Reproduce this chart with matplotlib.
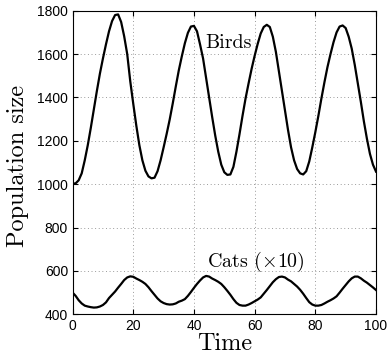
import numpy as np
import matplotlib
matplotlib.use("Agg")
import matplotlib.pyplot as plt

# Simulated predator-prey run, sampled once per time unit
time = np.arange(0, 101)

birds = [
    1002, 1004, 1018, 1050, 1110, 1180, 1260, 1345, 1430, 1510,
    1580, 1645, 1705, 1752, 1780, 1783, 1748, 1682, 1600, 1475,
    1370, 1270, 1180, 1110, 1062, 1036, 1027, 1030, 1060, 1110,
    1170, 1232, 1298, 1372, 1450, 1525, 1590, 1650, 1698, 1727,
    1730, 1705, 1645, 1580, 1490, 1400, 1310, 1225, 1150, 1090,
    1055, 1043, 1045, 1080, 1150, 1230, 1315, 1395, 1465, 1532,
    1592, 1647, 1695, 1725, 1735, 1725, 1680, 1610, 1520, 1430,
    1340, 1250, 1170, 1110, 1070, 1050, 1045, 1060, 1105, 1170,
    1240, 1315, 1395, 1470, 1540, 1600, 1655, 1700, 1727, 1732,
    1720, 1680, 1625, 1550, 1465, 1380, 1290, 1210, 1140, 1090,
    1058,
]

cats = [
    50.0, 48.5, 46.5, 45.0, 44.0, 43.6, 43.3, 43.1, 43.2, 43.6,
    44.3, 45.5, 47.5, 49.0, 50.5, 52.3, 54.0, 55.8, 57.0, 57.5,
    57.3, 56.5, 55.8, 55.0, 54.0, 52.5, 50.7, 49.0, 47.3, 46.0,
    45.2, 44.7, 44.5, 44.6, 45.0, 45.8, 46.3, 47.0, 48.5, 50.3,
    52.2, 54.0, 55.6, 57.0, 57.7, 57.4, 56.5, 55.8, 55.0, 54.0,
    52.5, 50.8, 49.0, 47.0, 45.3, 44.3, 44.0, 44.0, 44.5, 45.2,
    46.0, 46.8, 47.8, 49.5, 51.2, 53.0, 54.8, 56.2, 57.2, 57.4,
    57.0, 56.0, 55.2, 54.0, 52.8, 51.3, 49.5, 47.5, 45.6, 44.5,
    44.0, 44.0, 44.3, 45.0, 45.8, 46.5, 47.3, 48.3, 50.0, 51.8,
    53.5, 55.2, 56.6, 57.4, 57.4, 56.6, 55.5, 54.6, 53.5, 52.4,
    51.2,
]
cat_scale = 10

xticks = [0, 20, 40, 60, 80, 100]
yticks = [400, 600, 800, 1000, 1200, 1400, 1600, 1800]

plt.rcParams["mathtext.fontset"] = "cm"
serif = ["cmr10", "DejaVu Serif"]

fig = plt.figure(figsize=(3.87, 3.56), dpi=100)
ax = fig.add_axes([0.1876, 0.1171, 0.7840, 0.8528])

ax.plot(time, birds, color="black", linewidth=1.6)
ax.plot(time, np.array(cats) * cat_scale, color="black", linewidth=1.6)

ax.text(43.6, 1627, "Birds", family=serif, fontsize=14.4, va="baseline")
ax.text(44.2, 617, r"Cats $(\times10)$", family=serif, fontsize=14.4, va="baseline")

ax.set_xlim(0, 100)
ax.set_ylim(400, 1800)
ax.set_xticks(xticks)
ax.set_yticks(yticks)
ax.tick_params(direction="in", length=3.5, width=0.8, top=True, right=True,
               labelsize=10, pad=3.3)
for lab in ax.get_xticklabels() + ax.get_yticklabels():
    lab.set_family("Liberation Sans")
for sp in ax.spines.values():
    sp.set_linewidth(0.8)

# light dotted grid, MATLAB style
ax.grid(True, linestyle=(0, (1, 3)), color="0.55", linewidth=0.65)

ax.set_xlabel("Time", family=serif, fontsize=17.5)
ax.set_ylabel("Population size", family=serif, fontsize=17.5)
ax.xaxis.set_label_coords(0.5, -0.062)
ax.yaxis.set_label_coords(-0.145, 0.49)

fig.savefig("out.png", dpi=100)
